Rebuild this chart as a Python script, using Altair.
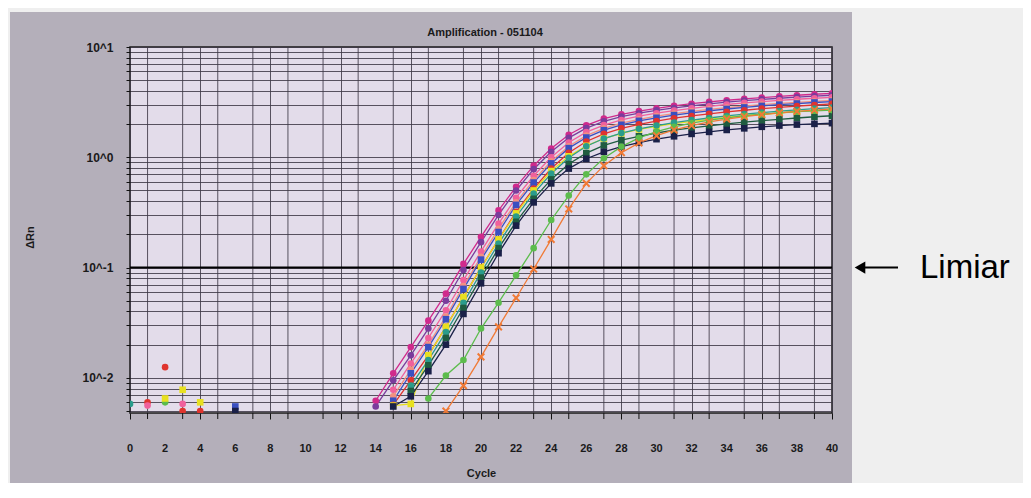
import altair as alt
import pandas as pd

# ---------------- data ----------------
cycles = list(range(14, 41))

magenta = [0.0062, 0.011, 0.019, 0.033, 0.058, 0.108, 0.19, 0.33, 0.54, 0.84, 1.2, 1.6, 1.95, 2.24, 2.45, 2.62, 2.78, 2.93, 3.06, 3.18, 3.29, 3.39, 3.48, 3.57, 3.65, 3.73, 3.8]
purple = [0.0055, 0.0095, 0.016, 0.028, 0.05, 0.095, 0.17, 0.3, 0.5, 0.78, 1.12, 1.5, 1.84, 2.12, 2.34, 2.51, 2.66, 2.8, 2.93, 3.05, 3.16, 3.26, 3.35, 3.43, 3.51, 3.58, 3.65]
pink = [None, 0.0078, 0.0135, 0.023, 0.041, 0.077, 0.14, 0.25, 0.43, 0.68, 1.0, 1.36, 1.69, 1.96, 2.18, 2.36, 2.51, 2.65, 2.78, 2.9, 3.01, 3.11, 3.2, 3.28, 3.36, 3.43, 3.5]
salmon = [None, 0.0068, 0.0118, 0.02, 0.036, 0.068, 0.125, 0.225, 0.39, 0.62, 0.92, 1.26, 1.57, 1.83, 2.04, 2.21, 2.36, 2.49, 2.61, 2.72, 2.82, 2.91, 3.0, 3.08, 3.15, 3.22, 3.28]
blue = [None, 0.0062, 0.011, 0.019, 0.034, 0.064, 0.118, 0.21, 0.37, 0.59, 0.88, 1.21, 1.51, 1.76, 1.97, 2.14, 2.28, 2.41, 2.53, 2.64, 2.74, 2.83, 2.92, 3.0, 3.07, 3.14, 3.2]
red = [None, 0.0057, 0.0095, 0.016, 0.029, 0.054, 0.1, 0.18, 0.32, 0.52, 0.79, 1.1, 1.39, 1.63, 1.83, 1.99, 2.13, 2.26, 2.37, 2.48, 2.58, 2.67, 2.76, 2.84, 2.91, 2.98, 3.05]
yellow = [None, 0.0056, 0.0058, 0.016, 0.029, 0.054, 0.1, 0.18, 0.31, 0.5, 0.75, 1.02, 1.27, 1.48, 1.65, 1.79, 1.91, 2.02, 2.12, 2.21, 2.3, 2.38, 2.45, 2.52, 2.59, 2.65, 2.71]
teal = [None, None, 0.0085, 0.0145, 0.026, 0.048, 0.09, 0.165, 0.29, 0.47, 0.71, 0.99, 1.26, 1.48, 1.66, 1.81, 1.94, 2.06, 2.17, 2.27, 2.37, 2.46, 2.54, 2.62, 2.69, 2.76, 2.82]
darkgreen = [None, None, 0.0076, 0.013, 0.023, 0.043, 0.081, 0.15, 0.26, 0.42, 0.63, 0.87, 1.09, 1.28, 1.43, 1.55, 1.66, 1.76, 1.85, 1.93, 2.01, 2.08, 2.15, 2.21, 2.27, 2.33, 2.38]
navy = [None, 0.0055, 0.0068, 0.0115, 0.02, 0.038, 0.072, 0.135, 0.24, 0.39, 0.58, 0.79, 0.97, 1.12, 1.25, 1.36, 1.46, 1.55, 1.63, 1.7, 1.77, 1.83, 1.89, 1.94, 1.98, 2.01, 2.04]
lightgreen = [None, None, None, 0.0065, 0.0105, 0.0145, 0.028, 0.048, 0.085, 0.15, 0.27, 0.45, 0.7, 0.98, 1.25, 1.5, 1.71, 1.89, 2.04, 2.17, 2.28, 2.38, 2.46, 2.53, 2.59, 2.64, 2.68]
orange = [None, None, None, None, 0.005, 0.0085, 0.0155, 0.029, 0.053, 0.097, 0.18, 0.34, 0.58, 0.84, 1.1, 1.35, 1.57, 1.77, 1.94, 2.09, 2.22, 2.34, 2.44, 2.53, 2.61, 2.68, 2.75]

series_names = ["magenta", "purple", "pink", "salmon", "blue", "red", "yellow",
                "teal", "darkgreen", "navy", "lightgreen", "orange"]
series_colors = ["#d02a8c", "#7a3c9c", "#f0609c", "#f29080", "#3a4fc0", "#e0342e",
                 "#e8e020", "#2a9c8c", "#1f5c40", "#1a2048", "#5cbc4c", "#f07a36"]
series_shapes = ["circle", "circle", "circle", "circle", "square", "circle", "square",
                 "circle", "square", "square", "circle", "circle"]
series_values = [magenta, purple, pink, salmon, blue, red, yellow,
                 teal, darkgreen, navy, lightgreen, orange]

# early baseline noise points
noise_cycle = [0, 1, 1, 2, 2, 2, 3, 3, 3, 4, 4, 6, 6]
noise_value = [0.0058, 0.006, 0.0056, 0.0125, 0.006, 0.0065, 0.0078, 0.0058, 0.005, 0.006, 0.005, 0.0055, 0.005]
noise_series = ["teal", "red", "pink", "red", "lightgreen", "yellow", "yellow", "pink",
                "red", "yellow", "red", "blue", "navy"]

threshold = 0.1
y_label_values = [0.01, 0.1, 1, 10]
y_label_texts = ["10^-2", "10^-1", "10^0", "10^1"]
x_label_values = list(range(0, 41, 2))
x_label_texts = [str(v) for v in x_label_values]
x_minor_grid = list(range(1, 40, 2))
chart_title = "Amplification - 051104"

# ---------------- tables ----------------
rows = []
for name, vals in zip(series_names, series_values):
    for c, v in zip(cycles, vals):
        if v is not None:
            rows.append({"cycle": c, "value": v, "series": name})
df = pd.DataFrame(rows)
df_main = df[df.series != "orange"]
df_orange = df[df.series == "orange"]
df_noise = pd.DataFrame({"cycle": noise_cycle, "value": noise_value, "series": noise_series})
df_minor = pd.DataFrame({"cycle": x_minor_grid})
df_xlab = pd.DataFrame({"cycle": x_label_values, "label": x_label_texts})
one = pd.DataFrame({"a": [0]})

# axis grid values (structure of a log axis)
y_grid = [k * 10.0 ** n for n in range(-3, 1) for k in range(1, 10)]
y_grid = [round(v, 6) for v in y_grid if 0.0048 <= v <= 10] + [10]
label_expr = " : ".join(
    f"abs(datum.value - {v}) < {v * 1e-3} ? '{t}'" for v, t in zip(y_label_values, y_label_texts)
) + " : ''"

FONT = "Liberation Sans"
GRID = "#3e3846"
GRID_OP = 0.85

x_enc = alt.X(
    "cycle:Q",
    scale=alt.Scale(domain=[0, 40], nice=False, zero=False),
    axis=alt.Axis(
        values=x_label_values, labels=False,
        grid=True, gridColor=GRID, gridOpacity=GRID_OP, gridWidth=1,
        tickColor="#111", tickSize=6, domain=False,
        title="Cycle", titleFont=FONT, titleFontSize=11, titleFontWeight="bold",
        titleColor="#1a1a1a", titlePadding=48,
    ),
)
y_enc = alt.Y(
    "value:Q",
    scale=alt.Scale(type="log", domain=[0.0048, 10], nice=False),
    axis=alt.Axis(
        values=y_grid, labelExpr=label_expr, labelOverlap=False,
        grid=True, gridColor=GRID, gridOpacity=GRID_OP, gridWidth=1,
        tickColor="#111", tickSize=4, domain=False,
        labelFont=FONT, labelFontSize=12, labelFontWeight="bold", labelColor="#1a1a1a",
        labelPadding=13, labelFlush=False,
        title="ΔRn", titleFont=FONT, titleFontSize=11, titleFontWeight="bold",
        titleColor="#1a1a1a", titleX=-95, titleY=190, titleAngle=-90,
    ),
)
color_enc = alt.Color("series:N", scale=alt.Scale(domain=series_names, range=series_colors), legend=None)
shape_enc = alt.Shape("series:N", scale=alt.Scale(domain=series_names, range=series_shapes), legend=None)

light = "#efefef"
right_cover = alt.Chart(one).mark_rect(color=light).encode(
    x=alt.value(722), x2=alt.value(900), y=alt.value(-45), y2=alt.value(460))
top_cover = alt.Chart(one).mark_rect(color=light).encode(
    x=alt.value(-130), x2=alt.value(900), y=alt.value(-45), y2=alt.value(-35))
left_cover = alt.Chart(one).mark_rect(color=light).encode(
    x=alt.value(-130), x2=alt.value(-120), y=alt.value(-45), y2=alt.value(460))

title_text = alt.Chart(one).mark_text(
    text=chart_title, font=FONT, fontSize=11, fontWeight="bold", color="#1a1a1a",
    align="center", baseline="middle").encode(x=alt.value(355), y=alt.value(-14))

# x tick labels (every 2 cycles)
x_labels = alt.Chart(df_xlab).mark_text(
    font=FONT, fontSize=11, fontWeight="bold", color="#1a1a1a",
    align="center", baseline="middle").encode(x="cycle:Q", y=alt.value(402), text="label:N")

# grid lines at odd cycles (even cycles get theirs from the axis)
minor_grid = alt.Chart(df_minor).mark_rule(color=GRID, opacity=GRID_OP, strokeWidth=1).encode(
    x="cycle:Q")
minor_ticks = alt.Chart(df_minor).mark_rule(color="#111", strokeWidth=1).encode(
    x="cycle:Q", y=alt.value(366), y2=alt.value(372))

thr = alt.Chart(one).mark_rule(color="#000", strokeWidth=2).encode(y=alt.datum(threshold))

lines = alt.Chart(df).mark_line(strokeWidth=1.3, clip=True).encode(
    x=x_enc, y=y_enc, color=color_enc, detail="series:N")
pts = alt.Chart(df_main).mark_point(filled=True, size=44, opacity=1, clip=True).encode(
    x="cycle:Q", y="value:Q", color=color_enc, shape=shape_enc)
pts_orange = alt.Chart(df_orange).mark_point(
    shape="M-1,-1L1,1M-1,1L1,-1", filled=False, size=44, strokeWidth=2, opacity=1, clip=True
).encode(x="cycle:Q", y="value:Q", color=color_enc)
noise = alt.Chart(df_noise).mark_point(filled=True, size=44, opacity=1, clip=True).encode(
    x="cycle:Q", y="value:Q", color=color_enc, shape=shape_enc)

arrow_line = alt.Chart(one).mark_rule(color="#000", strokeWidth=2).encode(
    y=alt.datum(threshold), x=alt.value(734), x2=alt.value(768))
arrow_head = alt.Chart(one).mark_point(shape="triangle-left", filled=True, color="#000",
                                       size=150, opacity=1).encode(
    y=alt.datum(threshold), x=alt.value(730))
limiar = alt.Chart(one).mark_text(text="Limiar", font=FONT, fontSize=33, align="left",
                                  baseline="middle", color="#000").encode(
    y=alt.datum(threshold), x=alt.value(790))

chart = alt.layer(
    lines.mark_line(opacity=0), right_cover, top_cover, left_cover, title_text,
    minor_grid, minor_ticks, x_labels, thr, lines, pts, pts_orange, noise,
    arrow_line, arrow_head, limiar,
).properties(
    width=702, height=366,
    autosize=alt.AutoSizeParams(type="none"),
    padding={"left": 122, "top": 39, "right": 191, "bottom": 70},
).configure(
    background="#b4afba",
).configure_view(
    fill="#e3dcea", stroke="#1a1a1a", strokeWidth=1.5,
)

chart.save("out.html", embed_options={"renderer": "svg", "actions": False})
